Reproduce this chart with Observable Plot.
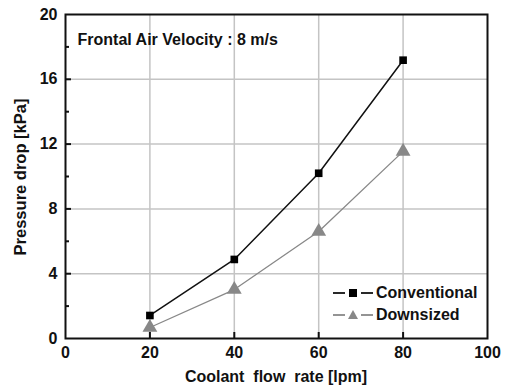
<!DOCTYPE html>
<html>
<head>
<meta charset="utf-8">
<script src="https://cdn.jsdelivr.net/npm/d3@7"></script>
<script src="https://cdn.jsdelivr.net/npm/@observablehq/plot@0.6"></script>
<style>
  html, body { margin: 0; padding: 0; background: #fff; }
  #wrap { position: relative; width: 508px; height: 389px; font-family: "Liberation Sans", Arial, sans-serif; }
  #legend { position: absolute; left: 332px; top: 282px; font-weight: bold; font-size: 16px; color: #111; }
  .row { display: flex; align-items: center; height: 22px; }
  .row svg { margin-right: 2px; }
</style>
</head>
<body>
<div id="wrap"></div>
<script>
const flowRates = [20, 40, 60, 80];
const conventional = [1.42, 4.88, 10.2, 17.18];
const downsized = [0.68, 3.02, 6.6, 11.55];
const xTicks = [0, 20, 40, 60, 80, 100];
const yTicks = [0, 4, 8, 12, 16, 20];
const yMinorTicks = [2, 6, 10, 14, 18];
const seriesNames = ["Conventional", "Downsized"];
const annotation = "Frontal Air Velocity : 8 m/s";

const convData = flowRates.map((x, i) => ({x, y: conventional[i]}));
const downData = flowRates.map((x, i) => ({x, y: downsized[i]}));
const xGrid = xTicks.slice(1, -1).map(v => ({v}));
const yGrid = yTicks.slice(1, -1).map(v => ({v}));
const yMinor = yMinorTicks.map(v => ({v}));

const W = 508, H = 389, mL = 65, mR = 21, mT = 14, mB = 51;
const plotW = W - mL - mR, plotH = H - mT - mB;
const xTickLen = 6 / plotH * 20;
const yTickLen = 6 / plotW * 100;
const yMinorLen = 4 / plotW * 100;

const chart = Plot.plot({
  width: W, height: H,
  marginLeft: mL, marginRight: mR, marginTop: mT, marginBottom: mB,
  style: {fontFamily: "Liberation Sans, Arial, sans-serif", fontWeight: "bold", fontSize: "16px", color: "#111", background: "white"},
  x: {domain: [0, 100]},
  y: {domain: [0, 20]},
  marks: [
    Plot.axisX(xTicks, {tickSize: 0, tickPadding: 8, fontSize: 16, fontWeight: "bold", label: null}),
    Plot.axisY(yTicks, {tickSize: 0, tickPadding: 8, fontSize: 16, fontWeight: "bold", label: null}),
    Plot.ruleX(xGrid, {x: "v", y1: 0, y2: 20, stroke: "#c4c4c4", strokeWidth: 1.5}),
    Plot.ruleY(yGrid, {y: "v", x1: 0, x2: 100, stroke: "#c4c4c4", strokeWidth: 1.5}),
    Plot.frame({stroke: "#111", strokeWidth: 2, fill: "none"}),
    Plot.ruleX(xGrid, {x: "v", y1: 0, y2: xTickLen, stroke: "#111", strokeWidth: 2}),
    Plot.ruleY(yGrid, {y: "v", x1: 0, x2: yTickLen, stroke: "#111", strokeWidth: 2}),
    Plot.ruleY(yMinor, {y: "v", x1: 0, x2: yMinorLen, stroke: "#111", strokeWidth: 2}),
    Plot.line(convData, {x: "x", y: "y", stroke: "#111", strokeWidth: 1.5}),
    Plot.line(downData, {x: "x", y: "y", stroke: "#888", strokeWidth: 1.3}),
    Plot.dot(convData, {x: "x", y: "y", symbol: "square", r: 4.3, fill: "#000", stroke: "none"}),
    Plot.dot(downData, {x: "x", y: "y", symbol: "triangle", r: 5.5, fill: "#888", stroke: "none"}),
    Plot.text([annotation], {text: d => d, frameAnchor: "top-left", dx: 12, dy: 19, textAnchor: "start", fontSize: 16, fontWeight: "bold", fill: "#111"})
  ]
});

const wrap = document.getElementById("wrap");
wrap.appendChild(chart);

const svg = d3.select(chart);
svg.append("text").attr("x", mL + plotW / 2).attr("y", H - 7).attr("text-anchor", "middle")
  .attr("font-size", 16).attr("font-weight", "bold").attr("fill", "#111").attr("xml:space", "preserve")
  .text("Coolant  flow  rate [lpm]");
svg.append("text").attr("transform", `translate(26,${mT + plotH / 2 + 1}) rotate(-90)`).attr("text-anchor", "middle")
  .attr("font-size", 16.5).attr("font-weight", "bold").attr("fill", "#111")
  .text("Pressure drop [kPa]");

const legend = document.createElement("div");
legend.id = "legend";
const sym = [
  `<rect x="17" y="7" width="8" height="8" fill="#000"/>`,
  `<path d="M21,6 L26,15 L16,15 Z" fill="#888"/>`
];
const cols = ["#111", "#888"];
legend.innerHTML = seriesNames.map((n, i) =>
  `<div class="row"><svg width="42" height="22"><line x1="1" x2="13" y1="11" y2="11" stroke="${cols[i]}" stroke-width="1.8"/>${sym[i]}<line x1="29" x2="41" y1="11" y2="11" stroke="${cols[i]}" stroke-width="1.8"/></svg><span>${n}</span></div>`
).join("");
wrap.appendChild(legend);
</script>
</body>
</html>
